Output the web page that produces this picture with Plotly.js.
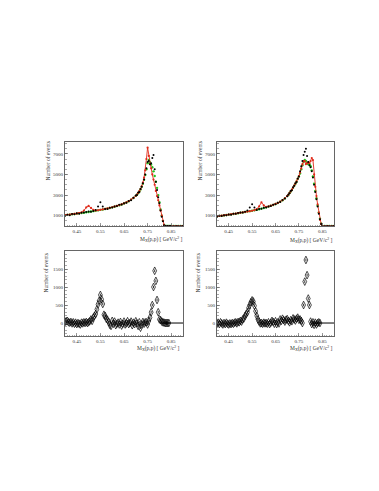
<!DOCTYPE html>
<html>
<head>
<meta charset="utf-8">
<script src="https://cdn.plot.ly/plotly-3.0.1.min.js"></script>
<style>html,body{margin:0;padding:0;background:#fff;}#chart{width:379px;height:491px;}</style>
</head>
<body>
<div id="chart"></div>
<script>
// ---------- data ----------
const xTop = [0.40,0.41,0.42,0.43,0.44,0.45,0.46,0.47,0.48,0.49,0.50,0.51,0.52,0.53,0.54,0.55,0.56,0.57,0.58,0.59,0.60,0.61,0.62,0.63,0.64,0.65,0.66,0.67,0.68,0.69,
  0.70,0.705,0.71,0.715,0.72,0.725,0.73,0.735,0.74,0.745,0.75,0.755,0.76,0.765,0.77,0.775,0.78,0.785,0.79,0.795,0.80,0.805,0.81,0.815,0.82,0.825,0.83,0.835,0.84,0.845,
  0.85,0.86,0.87,0.88,0.89,0.90];

const topLeftGreen = [1050,1080,1110,1140,1170,1200,1230,1260,1290,1330,1360,1400,1440,1480,1520,1560,1600,1650,1700,1750,1810,1870,1940,2010,2090,2180,2280,2400,2540,2710,
  2920,3040,3180,3350,3550,3800,4100,4480,4950,5500,6100,6400,6200,5950,5700,5300,4850,4300,3700,3000,2300,1600,1000,500,100,0,0,0,0,0,
  0,0,0,0,0,0];
const topLeftRed = [1050,1080,1110,1140,1170,1200,1240,1320,1500,1800,1950,1750,1560,1500,1530,1570,1610,1660,1710,1760,1820,1880,1950,2020,2100,2190,2290,2410,2550,2720,
  2930,3050,3200,3380,3580,3850,4200,4700,5400,6500,7600,6800,6000,5600,5000,4500,4000,3400,2900,2500,2000,1500,1000,500,100,0,0,0,0,0,
  0,0,0,0,0,0];
const topLeftBlack = [1000,1100,1050,1160,1150,1230,1200,1280,1320,1350,1400,1380,1450,1550,1900,2300,1900,1650,1650,1780,1800,1900,1930,2050,2080,2200,2250,2420,2500,2750,
  2950,3000,3250,3300,3600,3800,4150,4500,5000,5600,6200,6300,6000,6100,6600,6900,5500,4300,3500,2800,2200,1500,900,450,80,0,0,0,0,0,
  0,0,0,0,0,0];

const topRightGreen = [950,980,1000,1030,1060,1100,1130,1170,1200,1240,1280,1320,1360,1400,1440,1480,1530,1580,1630,1690,1750,1810,1880,1960,2040,2130,2230,2350,2490,2680,
  2900,3000,3200,3350,3500,3700,3900,4100,4300,4550,4800,5100,5500,5900,6200,6400,6300,6100,6000,6000,5800,5400,4800,4100,3400,2700,2000,1300,700,250,
  0,0,0,0,0,0];
const topRightRed = [950,980,1000,1030,1060,1100,1130,1170,1200,1240,1280,1320,1360,1400,1440,1480,1540,1650,1900,2300,2000,1850,1890,1970,2050,2140,2240,2360,2500,2690,
  2910,3020,3210,3360,3520,3720,3920,4120,4330,4580,4850,5200,5600,6000,6300,6300,6000,6100,6200,6100,6300,6600,6400,5000,3800,2900,2100,1300,600,200,
  0,0,0,0,0,0];
const topRightBlack = [900,1000,980,1050,1040,1120,1100,1190,1180,1250,1300,1310,1380,1500,1800,2100,1800,1560,1640,1680,1760,1800,1900,1950,2060,2120,2250,2340,2520,2660,
  2880,3050,3180,3400,3480,3750,3900,4150,4280,4600,4800,5300,5800,6300,6900,7200,7500,6800,6200,5900,5700,5300,4700,4000,3300,2600,1900,1200,650,200,
  0,0,0,0,0,0];

const xBot = [0.400,0.405,0.410,0.415,0.420,0.425,0.430,0.435,0.440,0.445,0.450,0.455,0.460,0.465,0.470,0.475,0.480,0.485,0.490,0.495,
  0.500,0.505,0.510,0.515,0.520,0.525,0.530,0.535,0.540,0.545,0.550,0.555,0.560,0.565,0.570,0.575,0.580,0.585,0.590,0.595,
  0.600,0.605,0.610,0.615,0.620,0.625,0.630,0.635,0.640,0.645,0.650,0.655,0.660,0.665,0.670,0.675,0.680,0.685,0.690,0.695,
  0.700,0.705,0.710,0.715,0.720,0.725,0.730,0.735,0.740,0.745,0.750,0.755,0.760,0.765,0.770,0.775,0.780,0.785,0.790,0.795,
  0.800,0.805,0.810,0.815,0.820,0.825,0.830,0.835,0.840];

const botLeft = [30,50,60,20,10,30,-10,20,-20,10,-30,0,-20,-40,10,-10,20,0,30,0,
  20,50,100,60,150,200,250,380,520,620,780,660,530,230,200,120,90,30,-50,-80,
  60,-20,40,-60,-20,10,-40,30,-70,-20,40,-40,-10,50,-30,0,40,-60,10,-30,
  50,-10,-80,20,-130,-40,30,-20,20,20,-40,60,150,300,500,1000,1450,1170,640,300,
  100,80,40,20,10,0,0,0,0];
const botRight = [-20,10,-30,20,-10,-40,0,-30,10,-20,-40,-10,-30,0,-20,10,20,-10,30,20,
  60,40,100,130,200,250,300,420,500,580,630,600,480,330,200,100,40,-10,0,-20,
  10,-10,0,-20,20,-30,10,60,30,-20,50,-30,20,-10,100,60,120,80,40,90,
  110,60,20,80,50,130,100,70,120,150,90,100,60,0,500,1150,1750,1330,680,500,
  40,-30,20,-50,10,-40,0,20,0];

const zeroLineX = [0.805, 0.90];
const zeroLineY = [0, 0];

const xTickVals = [0.45, 0.55, 0.65, 0.75, 0.85];
const xTickText = ["0.45", "0.55", "0.65", "0.75", "0.85"];
const yTopTickVals = [1000, 3000, 5000, 7000];
const yBotTickVals = [0, 500, 1000, 1500];
const yTitle = "Number of events";
const xTitle = "M<sub>X</sub>(p,p) [ GeV/c<sup>2</sup> ]";

// ---------- layout helpers ----------
const W = 379, H = 491;
const px = v => v / W;
const py = v => 1 - v / H;
const FONT = "Liberation Serif, DejaVu Serif, serif";
const RED = "#e02a1a", GREEN = "#1fc41f";

function topTraces(xa, ya, g, r, b) {
  return [
    {x: xTop, y: g, xaxis: xa, yaxis: ya, type: "scatter", mode: "markers",
     marker: {color: GREEN, size: 2.4}, hoverinfo: "skip"},
    {x: xTop, y: r, xaxis: xa, yaxis: ya, type: "scatter", mode: "lines+markers",
     line: {color: RED, width: 0.9}, marker: {color: RED, size: 2.2}, hoverinfo: "skip"},
    {x: xTop, y: b, xaxis: xa, yaxis: ya, type: "scatter", mode: "markers",
     marker: {color: "#000", size: 2}, hoverinfo: "skip"}
  ];
}
function botTraces(xa, ya, vals) {
  return [
    {x: zeroLineX, y: zeroLineY, xaxis: xa, yaxis: ya, type: "scatter", mode: "lines",
     line: {color: "#000", width: 1}, hoverinfo: "skip"},
    {x: xBot, y: vals, xaxis: xa, yaxis: ya, type: "scatter", mode: "markers",
     marker: {symbol: "diamond-tall-open", color: "#000", size: 5.5, line: {width: 0.7, color: "#000"}},
     error_y: {type: "constant", value: 35, color: "#000", thickness: 0.8, width: 0},
     hoverinfo: "skip"}
  ];
}

function xaxisDef(l, r, anchor) {
  return {
    domain: [px(l), px(r)], anchor: anchor, range: [0.40, 0.90],
    tickvals: xTickVals, ticktext: xTickText, ticks: "inside", ticklen: 3,
    tickcolor: "#555", tickwidth: 0.6,
    minor: {dtick: 0.01, tick0: 0.40, ticks: "inside", ticklen: 1.5, tickcolor: "#555", tickwidth: 0.5},
    showline: true, mirror: true, linecolor: "#666", linewidth: 1, showgrid: false, zeroline: false,
    tickfont: {family: FONT, size: 5, color: "#333"}
  };
}
function yaxisDef(t, b, anchor, range, tv, minorD) {
  return {
    domain: [py(b), py(t)], anchor: anchor, range: range,
    tickvals: tv, ticks: "inside", ticklen: 3, tickcolor: "#555", tickwidth: 0.6,
    minor: {dtick: minorD, ticks: "inside", ticklen: 1.5, tickcolor: "#555", tickwidth: 0.5},
    showline: true, mirror: true, linecolor: "#666", linewidth: 1, showgrid: false, zeroline: false,
    tickfont: {family: FONT, size: 5, color: "#333"}
  };
}

const LX1 = 65, RX1 = 183, LX2 = 217, RX2 = 334;
const TT = 142, TB = 226, BT = 251, BB = 336;

const data = [].concat(
  topTraces("x", "y", topLeftGreen, topLeftRed, topLeftBlack),
  topTraces("x2", "y2", topRightGreen, topRightRed, topRightBlack),
  botTraces("x3", "y3", botLeft),
  botTraces("x4", "y4", botRight)
);

function yLab(x, top) {
  return {text: yTitle, xref: "paper", yref: "paper", x: px(x), y: py(top),
    xanchor: "center", yanchor: "top", textangle: -90, showarrow: false,
    font: {family: FONT, size: 5.5, color: "#333"}};
}
function xLab(right, yc) {
  return {text: xTitle, xref: "paper", yref: "paper", x: px(right), y: py(yc),
    xanchor: "right", yanchor: "middle", showarrow: false,
    font: {family: FONT, size: 5.5, color: "#333"}};
}

const layout = {
  width: W, height: H, margin: {l: 0, r: 0, t: 0, b: 0},
  paper_bgcolor: "#fff", plot_bgcolor: "#fff", showlegend: false,
  font: {family: FONT},
  xaxis: xaxisDef(LX1, RX1, "y"),
  yaxis: yaxisDef(TT, TB, "x", [0, 8150], yTopTickVals, 500),
  xaxis2: xaxisDef(LX2, RX2, "y2"),
  yaxis2: yaxisDef(TT, TB, "x2", [0, 8150], yTopTickVals, 500),
  xaxis3: xaxisDef(LX1, RX1, "y3"),
  yaxis3: yaxisDef(BT, BB, "x3", [-360, 2000], yBotTickVals, 100),
  xaxis4: xaxisDef(LX2, RX2, "y4"),
  yaxis4: yaxisDef(BT, BB, "x4", [-360, 2000], yBotTickVals, 100),
  annotations: [
    yLab(47, 140), yLab(199, 140), yLab(45, 252), yLab(197, 252),
    xLab(184, 239), xLab(334, 240), xLab(181, 348), xLab(334, 348)
  ]
};

Plotly.newPlot("chart", data, layout, {staticPlot: true, displayModeBar: false});
</script>
</body>
</html>
